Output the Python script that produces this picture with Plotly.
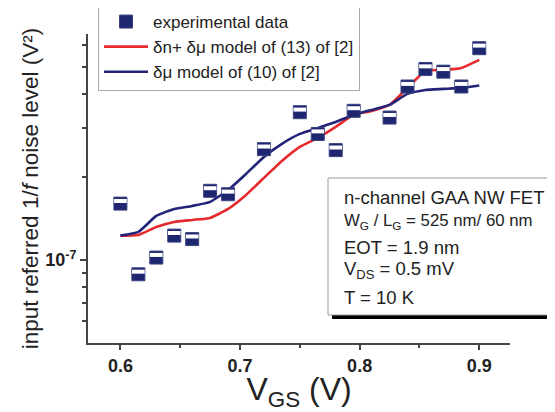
import plotly.graph_objects as go

# ---- data ----
vgs_exp = [0.600, 0.615, 0.630, 0.645, 0.660, 0.675, 0.690, 0.720, 0.750,
           0.765, 0.780, 0.795, 0.825, 0.840, 0.855, 0.870, 0.885, 0.900]
noise_exp = [1.60e-7, 0.887e-7, 1.02e-7, 1.225e-7, 1.19e-7, 1.78e-7, 1.73e-7,
             2.52e-7, 3.43e-7, 2.86e-7, 2.50e-7, 3.47e-7, 3.28e-7, 4.25e-7,
             4.92e-7, 4.81e-7, 4.25e-7, 5.85e-7]

vgs_model = [0.600, 0.615, 0.630, 0.645, 0.660, 0.675, 0.690, 0.705, 0.720,
             0.735, 0.750, 0.765, 0.780, 0.795, 0.810, 0.825, 0.840, 0.855,
             0.870, 0.885, 0.900]
noise_dn_dmu = [1.225e-7, 1.232e-7, 1.317e-7, 1.373e-7, 1.396e-7, 1.420e-7,
                1.530e-7, 1.720e-7, 1.982e-7, 2.284e-7, 2.567e-7, 2.767e-7,
                3.033e-7, 3.353e-7, 3.467e-7, 3.645e-7, 4.200e-7, 4.838e-7,
                4.879e-7, 4.962e-7, 5.305e-7]
noise_dmu = [1.225e-7, 1.263e-7, 1.443e-7, 1.530e-7, 1.569e-7, 1.623e-7,
             1.793e-7, 2.049e-7, 2.362e-7, 2.633e-7, 2.861e-7, 3.008e-7,
             3.162e-7, 3.353e-7, 3.496e-7, 3.645e-7, 3.995e-7, 4.130e-7,
             4.165e-7, 4.200e-7, 4.288e-7]

x_ticks = [0.6, 0.7, 0.8, 0.9]
x_minor = [0.65, 0.75, 0.85]
y_major = [1e-7]
y_minor = [6e-8, 7e-8, 8e-8, 9e-8, 2e-7, 3e-7, 4e-7, 5e-7, 6e-7]

legend_names = ["experimental data", "δn+ δμ model of (13) of [2]", "δμ model of (10) of [2]"]
info_lines = ["n-channel GAA NW FET",
              "W<sub>G</sub> / L<sub>G</sub> = 525 nm/ 60 nm",
              "EOT = 1.9 nm",
              "V<sub>DS</sub> = 0.5 mV",
              "T = 10 K"]
info_sizes = [18.5, 16.8, 18.5, 18.5, 18.5]

# ---- styles ----
FONT = "Arial, Liberation Sans, sans-serif"
RED = "#e52a2e"
BLUE = "#23237a"
NAVY = "#1e2670"
TXT = "#222222"

OFF = 8                      # page body margin
W, H = 555 - OFF, 412 - OFF
ML, MT = 88 - OFF, 34 - OFF
MR = W - (510 - OFF)
MB = H - (343 - OFF)
PW, PH = W - ML - MR, H - MT - MB
YLO, YHI = -7.30103, -6.1814
PX_PER_DEC = PH / (YHI - YLO)


def px(x):   # page x -> paper fraction
    return (x - OFF - ML) / PW


def py(y):   # page y -> paper fraction
    return (H - MB - (y - OFF)) / PH


fig = go.Figure()

fig.add_trace(go.Scatter(x=vgs_model, y=noise_dn_dmu, mode="lines", name=legend_names[1],
                         line=dict(color=RED, width=2.6, shape="spline", smoothing=0.5)))
fig.add_trace(go.Scatter(x=vgs_model, y=noise_dmu, mode="lines", name=legend_names[2],
                         line=dict(color=BLUE, width=2.6, shape="spline", smoothing=0.5)))
fig.add_trace(go.Scatter(x=vgs_exp, y=noise_exp, mode="markers", name=legend_names[0],
                         marker=dict(symbol="square", size=13, color=NAVY,
                                     line=dict(color="#3a4380", width=1))))
# white upper band of the half-filled square markers
shift = 10 ** (2.6 / PX_PER_DEC)
fig.add_trace(go.Scatter(x=vgs_exp, y=[v * shift for v in noise_exp], mode="markers",
                         showlegend=False, hoverinfo="skip",
                         marker=dict(symbol="line-ew", size=9,
                                     line=dict(color="white", width=4))))

# info box (shadow + box)
fig.add_shape(type="rect", xref="paper", yref="paper", layer="above",
              x0=px(332), x1=px(562), y0=py(319), y1=py(182),
              fillcolor="black", line=dict(width=0))
fig.add_shape(type="rect", xref="paper", yref="paper", layer="above",
              x0=px(328), x1=px(553), y0=py(315), y1=py(178),
              fillcolor="white", line=dict(color="#9a9a9a", width=1))

line_centers = [197, 221, 247, 270, 297]
for t, yc, fs in zip(info_lines, line_centers, info_sizes):
    fig.add_annotation(text=t, xref="paper", yref="paper", x=px(342), y=py(yc),
                       xanchor="left", yanchor="middle", showarrow=False,
                       font=dict(family=FONT, size=fs, color=TXT), align="left")

fig.update_layout(
    width=W, height=H,
    margin=dict(l=ML, r=MR, t=MT, b=MB, autoexpand=False),
    paper_bgcolor="white", plot_bgcolor="white",
    font=dict(family=FONT, color=TXT),
    legend=dict(x=px(98), y=py(3), xanchor="left", yanchor="top",
                bordercolor="#a8a8a8", borderwidth=1, bgcolor="white",
                font=dict(family=FONT, size=17, color=TXT), itemwidth=44,
                traceorder="normal", tracegroupgap=0),
    showlegend=True,
)
# order legend: experimental first
fig.data[2].legendrank = 1
fig.data[0].legendrank = 2
fig.data[1].legendrank = 3

fig.update_xaxes(range=[0.5729, 0.9257], tickvals=x_ticks, automargin=False,
                 ticktext=[f"<b>{v:.1f}</b>" for v in x_ticks],
                 tickfont=dict(family=FONT, size=18, color=TXT),
                 ticks="outside", ticklen=5, tickwidth=1.5, tickcolor="#444",
                 showline=True, linecolor="#444", linewidth=2, showgrid=False, zeroline=False,
                 minor=dict(tickvals=x_minor, ticks="outside", ticklen=3,
                            tickwidth=1.5, tickcolor="#444", showgrid=False),
                 title=dict(text="V<sub>GS</sub> (V)", standoff=0,
                            font=dict(family=FONT, size=32, color=TXT)))
fig.update_yaxes(type="log", range=[YLO, YHI], tickvals=y_major, automargin=False,
                 ticktext=["<b>10<sup>-7</sup></b>"],
                 tickfont=dict(family=FONT, size=18, color=TXT),
                 ticks="outside", ticklen=6, tickwidth=1.5, tickcolor="#444",
                 showline=True, linecolor="#444", linewidth=2, showgrid=False, zeroline=False,
                 minor=dict(tickvals=y_minor, ticks="outside", ticklen=4,
                            tickwidth=1.5, tickcolor="#444", showgrid=False),
                 title=dict(text="input referred 1/<i>f</i> noise level (V²)", standoff=0,
                            font=dict(family=FONT, size=22.5, color=TXT)))

fig.write_html("out.html")
